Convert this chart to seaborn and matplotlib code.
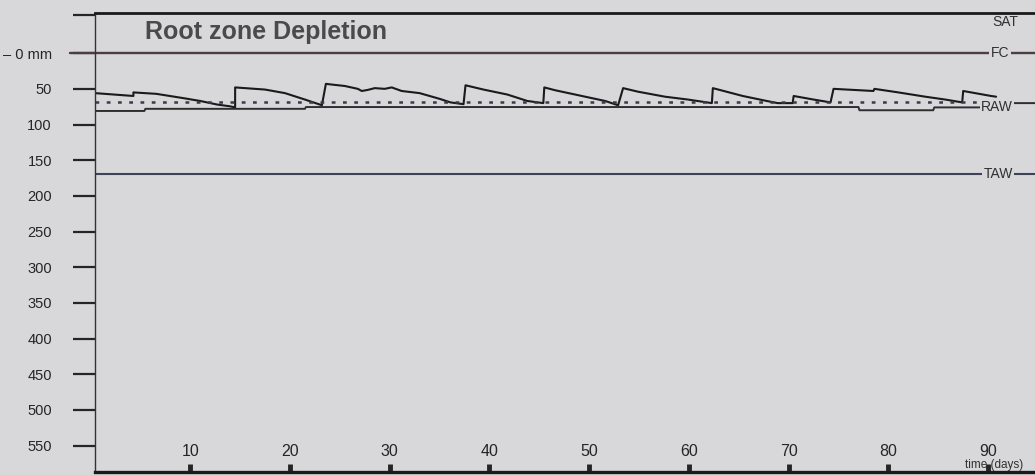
import matplotlib
matplotlib.use("Agg")
import matplotlib.pyplot as plt
from matplotlib import font_manager
import seaborn as sns

# root zone depletion (mm), sawtooth = irrigation events
depl_day = [0.45, 4.3, 4.3, 6.6, 9.3, 11.0, 12.7, 14.0, 14.5, 14.5, 15.5, 17.5, 19.5,
            21.5, 23.2, 23.6, 24.2, 25.5, 26.8, 27.2, 27.8, 28.5, 29.5, 30.2, 31.2,
            33.0, 35.0, 36.1, 37.4, 37.6, 39.4, 41.8, 43.8, 45.4, 45.5, 46.6, 49.6,
            51.6, 52.9, 53.4, 54.9, 57.6, 59.9, 62.3, 62.4, 65.4, 67.8, 68.9, 70.4,
            70.5, 72.5, 74.2, 74.5, 78.5, 78.6, 81.0, 83.7, 85.7, 87.4, 87.5, 90.3, 90.8]
depl_mm = [56, 60, 55, 57, 63, 67, 72, 74.5, 76, 48, 49, 51, 56,
           65, 73, 43, 44, 46, 50, 53, 51.5, 49, 50, 48, 53,
           56, 64, 69, 71.5, 45, 51, 58, 67, 70, 48, 52, 61,
           67, 73, 49, 54, 61, 65, 70, 49, 60, 67, 70, 70,
           60, 65, 69, 50, 53, 50, 55, 61, 65, 69, 53, 60, 61]

# readily available water line
raw_day = [0.45, 5.4, 5.5, 21.5, 21.6, 77.0, 77.1, 84.5, 84.6, 92.0, 92.5, 95.0]
raw_mm = [81, 81, 78, 78, 75.5, 75.5, 80, 80, 76, 76, 70, 70]

# dotted threshold line
thr_day = [0.45, 90.5]
thr_mm = [68.5, 68.5]

sat_mm = -57
fc_mm = 0
taw_mm = 170

y_ticks = [0, 50, 100, 150, 200, 250, 300, 350, 400, 450, 500, 550]
y_labels = ["\u2013 0 mm", "50", "100", "150", "200", "250", "300", "350",
            "400", "450", "500", "550"]
x_ticks = [10, 20, 30, 40, 50, 60, 70, 80, 90]

sns.set_theme(style="white")
names = {f.name for f in font_manager.fontManager.ttflist}
narrow = "Liberation Sans Narrow" if "Liberation Sans Narrow" in names else "Liberation Sans"
plt.rcParams["font.family"] = ["Liberation Sans", "DejaVu Sans"]

bg = "#d8d7da"
ink = "#252525"

fig = plt.figure(figsize=(10.35, 4.75), dpi=100, facecolor=bg)
ax = fig.add_axes([95 / 1035, 1 - 472 / 475, 940 / 1035, (472 - 12.5) / 475])
ax.set_facecolor(bg)

sns.lineplot(x=depl_day, y=depl_mm, estimator=None, sort=False, color="#1a1a1a",
             lw=1.5, ax=ax)
sns.lineplot(x=raw_day, y=raw_mm, estimator=None, sort=False, color="#2e2e2e",
             lw=1.4, ax=ax)
sns.lineplot(x=thr_day, y=thr_mm, estimator=None, sort=False, color="#3a3a4a",
             lw=1.8, ax=ax, linestyle=(0, (1.5, 3)))

ax.axhline(fc_mm, xmin=-25 / 940, xmax=1, color="#4a3e3e", lw=1.7, clip_on=False)
ax.axhline(taw_mm, color="#3c4456", lw=1.5)

ax.set_xlim(0.45, 94.7)
ax.set_ylim(587, sat_mm)

for side in ["top", "bottom"]:
    ax.spines[side].set_color("#1a1a1a")
ax.spines["top"].set_linewidth(2.0)
ax.spines["bottom"].set_linewidth(2.4)
ax.spines["left"].set_color("#333333")
ax.spines["left"].set_linewidth(1.0)
ax.spines["right"].set_visible(False)

ax.set_yticks([sat_mm + 3] + y_ticks)
ax.set_yticklabels([""] + y_labels, family=[narrow, "DejaVu Sans"])
ax.tick_params(axis="y", direction="out", length=16, width=1.6, pad=15,
               labelsize=10.5, color=ink, labelcolor=ink, left=True)

ax.set_xticks(x_ticks)
ax.set_xticklabels([str(t) for t in x_ticks], family=[narrow, "DejaVu Sans"])
ax.tick_params(axis="x", direction="in", length=6, width=3.5, pad=-20.5,
               labelsize=11.5, color=ink, labelcolor=ink, bottom=True)
ax.set_xlabel("")
ax.set_ylabel("")

lab = dict(ha="center", va="center", fontsize=10, color="#303030", clip_on=False)
box = dict(fc=bg, ec="none", pad=1.0)
ax.text(91.7, -43, "SAT", **lab)
ax.text(91.2, fc_mm, "FC", bbox=box, **lab)
ax.text(90.9, 76, "RAW", bbox=box, **lab)
ax.text(91.0, taw_mm, "TAW", bbox=box, **lab)

ax.text(0.9255, 0.002, "time (days)", transform=ax.transAxes, ha="left", va="bottom",
        fontsize=8.5, color="#303030", family=[narrow, "DejaVu Sans"], clip_on=False)

fig.text(145 / 1035, 1 - 32 / 475, "Root zone Depletion", fontsize=18,
         fontweight="bold", color="#4a4a4a", va="center")

fig.savefig("out.png", dpi=100, facecolor=bg)
